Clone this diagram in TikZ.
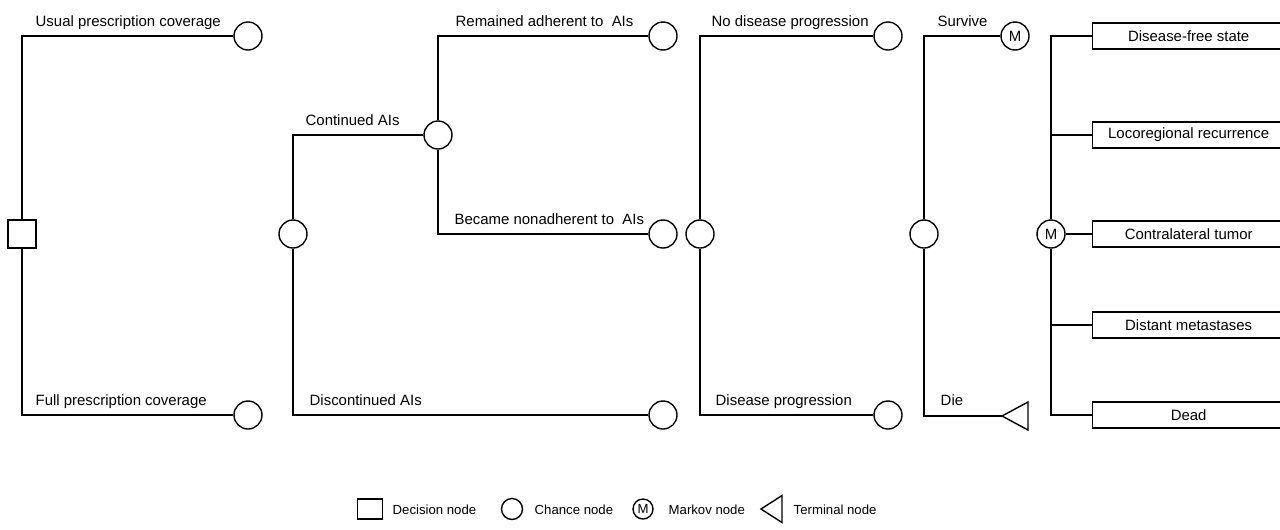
\documentclass[tikz,border=0pt]{standalone}
\usepackage{fontspec}
\setmainfont{Liberation Sans}
\usetikzlibrary{positioning}

\begin{document}
\begin{tikzpicture}[x=0.02cm,y=-0.02cm,line width=0.8pt,
	decision/.style={rectangle,draw,fill=white,minimum size=0.56cm,inner sep=0},
	chance/.style={circle,draw,fill=white,minimum size=0.56cm,inner sep=0},
	markov/.style={circle,draw,fill=white,minimum size=0.56cm,inner sep=0,font=\fontsize{8.5}{10}\selectfont},
	lbl/.style={anchor=base west,inner sep=0,font=\fontsize{8.5}{10}\selectfont},
	statebox/.style={rectangle,draw,fill=white,anchor=west,minimum width=3.84cm,minimum height=0.52cm,inner sep=0,font=\fontsize{8.5}{10}\selectfont},
	legtext/.style={anchor=west,inner sep=0,font=\fontsize{7.5}{9}\selectfont}]
		\useasboundingbox (0,0) rectangle (1280,529);
		\clip (0,0) rectangle (1280,529);
		\node[decision] (D) at (22, 234) {};
		\node[chance] (U) at (248, 36) {};
		\node[chance] (F) at (248, 415) {};
		\node[chance] (A) at (293, 234) {};
		\node[chance] (CA) at (438, 135) {};
		\node[chance] (RA) at (663, 36) {};
		\node[chance] (BN) at (663, 234) {};
		\node[chance] (DA) at (663, 415) {};
		\node[chance] (P) at (700, 234) {};
		\node[chance] (NP) at (888, 36) {};
		\node[chance] (DP) at (888, 415) {};
		\node[chance] (S) at (924, 234) {};
		\node[markov] (M1) at (1015, 36) {M};
		\coordinate (T) at (1002, 416);
		\draw (T) -- ++(26, -14) -- ++(0, 28) -- cycle;
		\node[markov] (M2) at (1051, 234) {M};
		\node[statebox] (B1) at (1092, 36) {Disease-free state};
		\node[statebox] (B2) at (1092, 135) {Locoregional recurrence};
		\node[statebox] (B3) at (1092, 234) {Contralateral tumor};
		\node[statebox] (B4) at (1092, 325) {Distant metastases};
		\node[statebox] (B5) at (1092, 415) {Dead};
		\draw (D) |- (U);
		\draw (D) |- (F);
		\draw (A) |- (CA);
		\draw (A) |- (DA);
		\draw (CA) |- (RA);
		\draw (CA) |- (BN);
		\draw (P) |- (NP);
		\draw (P) |- (DP);
		\draw (S) |- (M1);
		\draw (S) |- (T);
		\draw (M2) |- (B1);
		\draw (M2) |- (B2);
		\draw (M2) -- (B3);
		\draw (M2) |- (B4);
		\draw (M2) |- (B5);
		\node[lbl] (lU) at (35, 26) {Usual prescription coverage};
		\node[lbl] (lF) at (35, 405) {Full prescription coverage};
		\node[lbl] (lCA) at (305, 125) {Continued AIs};
		\node[lbl] (lRA) at (455, 26) {Remained adherent to~~AIs};
		\node[lbl] (lBN) at (454, 224) {Became nonadherent to~~AIs};
		\node[lbl] (lDA) at (309, 405) {Discontinued AIs};
		\node[lbl] (lNP) at (711, 26) {No disease progression};
		\node[lbl] (lDP) at (715, 405) {Disease progression};
		\node[lbl] (lS) at (937, 26) {Survive};
		\node[lbl] (lT) at (940, 405) {Die};
		\node[decision, minimum width=0.5cm, minimum height=0.4cm] (kD) at (370, 509) {};
		\node[legtext] (tD) at (392, 510) {Decision node};
		\node[chance, minimum size=0.42cm] (kC) at (512, 509) {};
		\node[legtext] (tC) at (534, 510) {Chance node};
		\node[markov, minimum size=0.4cm, font=\fontsize{7.5}{9}\selectfont] (kM) at (643, 509) {M};
		\node[legtext] (tM) at (668, 510) {Markov node};
		\coordinate (kT) at (761, 509);
		\draw (kT) -- ++(21, -13.5) -- ++(0, 27) -- cycle;
		\node[legtext] (tT) at (793, 510) {Terminal node};
	\end{tikzpicture}
\end{document}
